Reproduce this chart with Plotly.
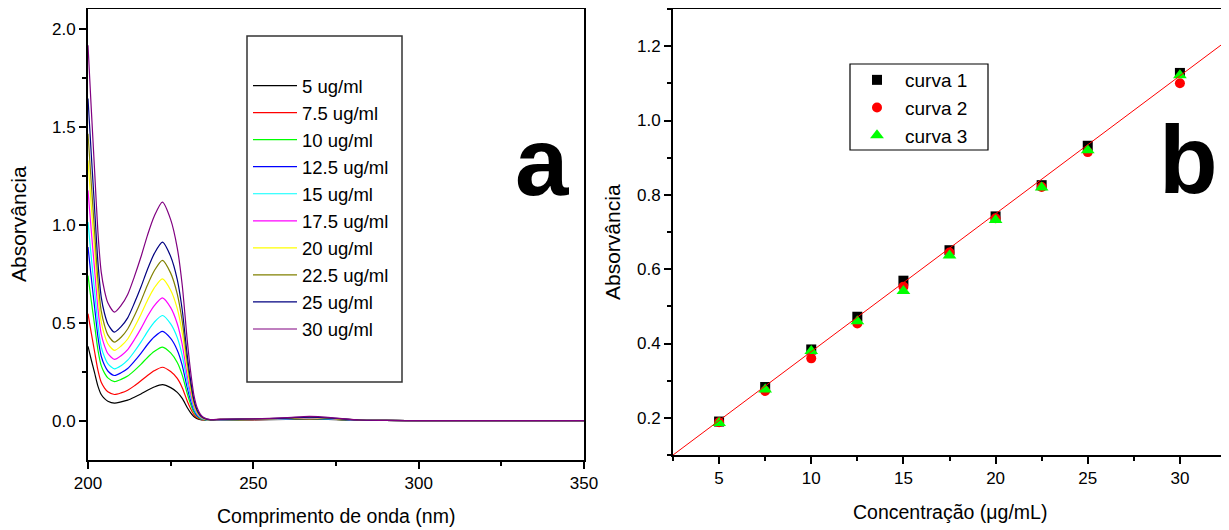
import plotly.graph_objects as go

# ---------------- data: panel a (UV spectra) ----------------
WAVELENGTH = [200, 201, 202, 203, 204, 205, 206, 208, 210, 212, 214, 216, 218, 220, 222.5,
              225, 227, 228.5, 230, 231, 232, 233, 234, 235, 237,
              240, 250, 260, 267, 275, 282, 290, 300, 350]

SPEC_LABELS = ["5 ug/ml", "7.5 ug/ml", "10 ug/ml", "12.5 ug/ml", "15 ug/ml",
               "17.5 ug/ml", "20 ug/ml", "22.5 ug/ml", "25 ug/ml", "30 ug/ml"]
SPEC_COLORS = ["#000000", "#FF0000", "#00FF00", "#0000FF", "#00FFFF",
               "#FF00FF", "#FFFF00", "#808000", "#000080", "#800080"]

A_5 = [0.380, 0.310, 0.244, 0.177, 0.134, 0.113, 0.100, 0.090, 0.096, 0.105, 0.120, 0.137, 0.156, 0.172, 0.184,
       0.169, 0.145, 0.114, 0.068, 0.042, 0.022, 0.011, 0.006, 0.004, 0.002,
       0.004, 0.005, 0.007, 0.009, 0.006, 0.002, 0.002, 0.001, 0.001]
A_7_5 = [0.546, 0.447, 0.352, 0.258, 0.196, 0.167, 0.148, 0.134, 0.142, 0.156, 0.178, 0.204, 0.231, 0.255, 0.273,
         0.251, 0.216, 0.169, 0.101, 0.063, 0.033, 0.016, 0.008, 0.004, 0.002,
         0.005, 0.006, 0.008, 0.010, 0.007, 0.003, 0.002, 0.001, 0.001]
A_10 = [0.741, 0.611, 0.487, 0.362, 0.281, 0.243, 0.219, 0.200, 0.211, 0.228, 0.256, 0.288, 0.323, 0.353, 0.376,
        0.346, 0.297, 0.233, 0.139, 0.086, 0.045, 0.023, 0.011, 0.006, 0.003,
        0.005, 0.007, 0.008, 0.011, 0.007, 0.003, 0.002, 0.001, 0.001]
A_12_5 = [0.886, 0.729, 0.578, 0.428, 0.329, 0.283, 0.254, 0.231, 0.245, 0.267, 0.303, 0.344, 0.389, 0.427, 0.456,
          0.420, 0.360, 0.283, 0.169, 0.105, 0.055, 0.027, 0.014, 0.007, 0.003,
          0.006, 0.007, 0.009, 0.012, 0.008, 0.003, 0.002, 0.001, 0.001]
A_15 = [1.013, 0.833, 0.661, 0.489, 0.377, 0.325, 0.291, 0.265, 0.281, 0.309, 0.352, 0.401, 0.455, 0.502, 0.537,
        0.494, 0.424, 0.333, 0.199, 0.124, 0.064, 0.032, 0.016, 0.008, 0.003,
        0.006, 0.007, 0.010, 0.014, 0.009, 0.003, 0.002, 0.001, 0.001]
A_17_5 = [1.175, 0.968, 0.770, 0.572, 0.442, 0.382, 0.343, 0.313, 0.332, 0.363, 0.413, 0.470, 0.533, 0.586, 0.627,
          0.577, 0.495, 0.389, 0.232, 0.144, 0.075, 0.038, 0.019, 0.009, 0.004,
          0.006, 0.008, 0.011, 0.015, 0.010, 0.003, 0.002, 0.001, 0.001]
A_20 = [1.328, 1.095, 0.873, 0.650, 0.504, 0.437, 0.393, 0.359, 0.381, 0.417, 0.476, 0.542, 0.615, 0.677, 0.724,
        0.666, 0.572, 0.449, 0.268, 0.167, 0.087, 0.043, 0.022, 0.011, 0.004,
        0.007, 0.008, 0.012, 0.016, 0.010, 0.004, 0.002, 0.001, 0.001]
A_22_5 = [1.464, 1.209, 0.964, 0.720, 0.560, 0.486, 0.438, 0.401, 0.426, 0.468, 0.534, 0.610, 0.693, 0.764, 0.818,
          0.753, 0.646, 0.507, 0.303, 0.188, 0.098, 0.049, 0.025, 0.012, 0.004,
          0.007, 0.009, 0.013, 0.018, 0.011, 0.004, 0.002, 0.001, 0.001]
A_25 = [1.643, 1.357, 1.083, 0.809, 0.631, 0.547, 0.494, 0.452, 0.480, 0.525, 0.599, 0.682, 0.773, 0.851, 0.911,
        0.838, 0.720, 0.565, 0.337, 0.210, 0.109, 0.055, 0.027, 0.014, 0.005,
        0.007, 0.009, 0.014, 0.019, 0.012, 0.004, 0.002, 0.001, 0.001]
A_30 = [1.915, 1.588, 1.275, 0.962, 0.758, 0.663, 0.602, 0.554, 0.588, 0.644, 0.734, 0.835, 0.947, 1.042, 1.115,
        1.026, 0.881, 0.691, 0.413, 0.256, 0.134, 0.067, 0.033, 0.017, 0.006,
        0.008, 0.010, 0.016, 0.022, 0.014, 0.004, 0.002, 0.001, 0.001]
SPECTRA = [A_5, A_7_5, A_10, A_12_5, A_15, A_17_5, A_20, A_22_5, A_25, A_30]

# ---------------- data: panel b (calibration) ----------------
CONC = [5, 7.5, 10, 12.5, 15, 17.5, 20, 22.5, 25, 30]
CURVA_1 = [0.190, 0.283, 0.384, 0.472, 0.569, 0.651, 0.742, 0.826, 0.932, 1.128]
CURVA_2 = [0.188, 0.272, 0.360, 0.454, 0.553, 0.645, 0.737, 0.821, 0.915, 1.100]
CURVA_3 = [0.186, 0.276, 0.380, 0.460, 0.541, 0.637, 0.732, 0.820, 0.920, 1.122]
FIT_SLOPE = 0.0371
FIT_INTERCEPT = 0.0072
FIT_X = [2.5, 32.5]

FONT = "Liberation Sans, Arial, Helvetica, sans-serif"
W, H = 1229, 530
PAGE_OFFSET = 8  # the page body margin moves the figure by 8 px right and down


def fx(p):
    return (p - PAGE_OFFSET) / W


def fy(p):
    return 1 - (p - PAGE_OFFSET) / H


fig = go.Figure()

for lab, col, vals in zip(SPEC_LABELS, SPEC_COLORS, SPECTRA):
    fig.add_trace(go.Scatter(
        x=WAVELENGTH, y=vals, mode="lines", name=lab,
        line=dict(color=col, width=1.2, shape="spline", smoothing=0.7),
        xaxis="x", yaxis="y", legend="legend2"))

fig.add_trace(go.Scatter(x=CONC, y=CURVA_1, mode="markers", name="curva 1",
                         marker=dict(symbol="square", color="black", size=10),
                         xaxis="x2", yaxis="y2", legend="legend"))
fig.add_trace(go.Scatter(x=CONC, y=CURVA_2, mode="markers", name="curva 2",
                         marker=dict(symbol="circle", color="#FF0000", size=10),
                         xaxis="x2", yaxis="y2", legend="legend"))
fig.add_trace(go.Scatter(x=CONC, y=CURVA_3, mode="markers", name="curva 3",
                         marker=dict(symbol="triangle-up", color="#00FF00", size=12),
                         xaxis="x2", yaxis="y2", legend="legend"))
fig.add_trace(go.Scatter(x=FIT_X, y=[FIT_INTERCEPT + FIT_SLOPE * v for v in FIT_X],
                         mode="lines", line=dict(color="#FF0000", width=1),
                         showlegend=False, xaxis="x2", yaxis="y2"))

axis_common = dict(showgrid=False, zeroline=False, showline=True, linecolor="black",
                   linewidth=2, mirror=True, ticks="outside", ticklen=7, tickwidth=1.5,
                   tickcolor="black", automargin=False,
                   tickfont=dict(family=FONT, size=17, color="black"))
minor_common = dict(ticks="outside", ticklen=4, tickwidth=1.5, tickcolor="black")

fig.update_layout(
    width=W, height=H,
    autosize=False,
    margin=dict(l=0, r=0, t=0, b=0, pad=0, autoexpand=False),
    paper_bgcolor="white", plot_bgcolor="white",
    font=dict(family=FONT, color="black"),
    xaxis=dict(domain=[fx(88), fx(584)], anchor="y", range=[200, 350],
               tickvals=[200, 250, 300, 350],
               minor=dict(tickvals=[225, 275, 325], **minor_common),
               **axis_common),
    yaxis=dict(domain=[fy(460), fy(9)], anchor="x", range=[-0.2, 2.1],
               tickvals=[0, 0.5, 1.0, 1.5, 2.0], tickformat=".1f",
               minor=dict(tickvals=[0.25, 0.75, 1.25, 1.75], **minor_common),
               **axis_common),
    xaxis2=dict(domain=[fx(673), fx(1226)], anchor="y2", range=[2.5, 32.5],
                tickvals=[5, 10, 15, 20, 25, 30],
                minor=dict(tickvals=[2.5, 7.5, 12.5, 17.5, 22.5, 27.5, 32.5], **minor_common),
                **axis_common),
    yaxis2=dict(domain=[fy(455), fy(9)], anchor="x2", range=[0.1, 1.3],
                tickvals=[0.2, 0.4, 0.6, 0.8, 1.0, 1.2], tickformat=".1f",
                minor=dict(tickvals=[0.1, 0.3, 0.5, 0.7, 0.9, 1.1, 1.3], **minor_common),
                **axis_common),
    legend=dict(x=fx(849), y=fy(61), xanchor="left", yanchor="top",
                bgcolor="rgba(0,0,0,0)", borderwidth=0, itemwidth=46,
                font=dict(family=FONT, size=19, color="black"), tracegroupgap=0),
    legend2=dict(x=fx(248), y=fy(67), xanchor="left", yanchor="top",
                 bgcolor="rgba(0,0,0,0)", borderwidth=0, itemwidth=44,
                 font=dict(family=FONT, size=18.5, color="black"), tracegroupgap=0),
    shapes=[
        dict(type="rect", xref="paper", yref="paper", x0=fx(247), x1=fx(402),
             y0=fy(382), y1=fy(36), line=dict(color="#333333", width=1.5)),
        dict(type="rect", xref="paper", yref="paper", x0=fx(850), x1=fx(988),
             y0=fy(150), y1=fy(64), line=dict(color="black", width=1.2)),
    ],
    annotations=[
        dict(text="Comprimento de onda (nm)", xref="paper", yref="paper",
             x=fx(336), y=fy(516), xanchor="center", yanchor="middle", showarrow=False,
             font=dict(family=FONT, size=19.5, color="black")),
        dict(text="Concentração (μg/mL)", xref="paper", yref="paper",
             x=fx(950), y=fy(512), xanchor="center", yanchor="middle", showarrow=False,
             font=dict(family=FONT, size=19.5, color="black")),
        dict(text="Absorvância", xref="paper", yref="paper", textangle=-90,
             x=fx(18), y=fy(224), xanchor="center", yanchor="middle", showarrow=False,
             font=dict(family=FONT, size=21, color="black")),
        dict(text="Absorvância", xref="paper", yref="paper", textangle=-90,
             x=fx(612), y=fy(242), xanchor="center", yanchor="middle", showarrow=False,
             font=dict(family=FONT, size=21, color="black")),
        dict(text="<b>a</b>", xref="paper", yref="paper",
             x=fx(542), y=fy(162), xanchor="center", yanchor="middle", showarrow=False,
             font=dict(family=FONT, size=96, color="black")),
        dict(text="<b>b</b>", xref="paper", yref="paper",
             x=fx(1188), y=fy(160), xanchor="center", yanchor="middle", showarrow=False,
             font=dict(family=FONT, size=96, color="black")),
    ],
)

fig.write_html("out.html")
